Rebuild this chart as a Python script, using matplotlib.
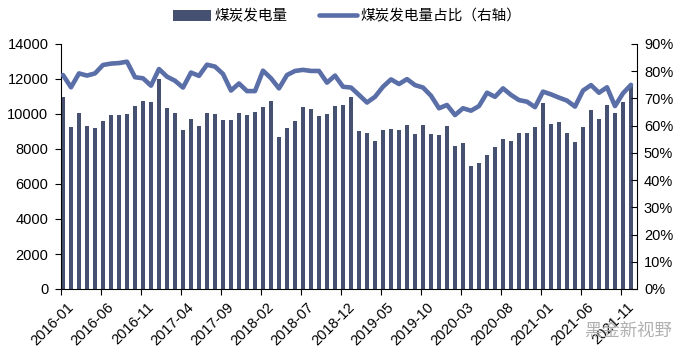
import matplotlib
matplotlib.use("Agg")
import numpy as np
import matplotlib.pyplot as plt
import matplotlib.transforms as mtrans

plt.rcParams['font.family'] = ['Liberation Sans', 'Noto Sans CJK SC', 'DejaVu Sans']

# months 2016-01 .. 2021-12
months = ["%d-%02d" % (y, m) for y in range(2016, 2022) for m in range(1, 13)]

coal_power = [10950, 9270, 10070, 9310, 9180, 9620, 9960, 9920, 9980, 10440, 10740, 10700,
              12000, 10360, 10070, 9070, 9700, 9300, 10070, 10000, 9680, 9640, 10070, 9920,
              10130, 10420, 10760, 8670, 9220, 9600, 10420, 10290, 9870, 10020, 10440, 10500,
              10970, 9010, 8930, 8460, 9090, 9140, 9100, 9350, 8860, 9390, 8880, 8800,
              9300, 8170, 8340, 7030, 7220, 7660, 8110, 8550, 8480, 8930, 8900, 9240,
              10630, 9410, 9560, 8900, 8400, 9240, 10210, 9730, 10510, 10070, 10700, 11700]

coal_share = [78.6, 74.1, 79.2, 78.4, 79.2, 82.3, 82.8, 83.0, 83.5, 77.8, 77.4, 74.7,
              80.8, 78.0, 76.5, 74.0, 79.5, 78.3, 82.4, 81.7, 79.0, 72.9, 75.5, 72.7,
              72.7, 80.2, 77.4, 73.7, 78.6, 80.1, 80.5, 80.1, 80.1, 75.8, 78.4, 74.3,
              74.0, 71.3, 68.5, 70.6, 74.3, 77.0, 75.3, 77.1, 74.9, 74.0, 71.0, 66.4,
              67.6, 63.9, 66.4, 65.5, 67.2, 72.1, 70.6, 73.7, 71.3, 69.4, 68.8, 66.8,
              72.5, 71.5, 70.3, 69.2, 67.0, 72.9, 74.9, 72.1, 74.1, 67.2, 71.9, 75.0]

bar_color = '#465070'
line_color = '#5A6EA8'

x = np.arange(len(months))

fig = plt.figure(figsize=(6.94, 3.64), dpi=100)
ax = fig.add_axes([61/694, 1 - 289/364, (637 - 61)/694, (289 - 44)/364])
ax2 = ax.twinx()

b = ax.bar(x, coal_power, width=0.45, color=bar_color, zorder=2)
l, = ax2.plot(x, coal_share, color=line_color, lw=3.3, solid_joinstyle='round',
              solid_capstyle='round', zorder=3)

ax.set_xlim(-0.25, 71.75)
ax.set_ylim(0, 14000)
ax.set_yticks(range(0, 14001, 2000))
ax2.set_ylim(0, 90)
ax2.set_yticks(range(0, 91, 10))
ax2.set_yticklabels(['%d%%' % v for v in range(0, 91, 10)])

ticks = list(range(0, 72, 5))
ax.set_xticks([t - 0.25 for t in ticks])
ax.tick_params(axis='x', labelbottom=False)
# rotated date labels, placed by hand-tuned offset from each tick
shift = mtrans.ScaledTranslation(6/100, -11/100, fig.dpi_scale_trans)
for t in ticks:
    ax.text(t - 0.25, 0, months[t], transform=ax.get_xaxis_transform() + shift,
            rotation=45, ha='right', va='top', rotation_mode='anchor', fontsize=10.5)

for a in (ax, ax2):
    a.spines['top'].set_visible(False)
    for s in a.spines.values():
        s.set_linewidth(0.8)
        s.set_color('black')
    a.tick_params(labelsize=10.5, width=0.8, length=4, colors='black')
ax.spines['right'].set_visible(False)
ax2.spines['left'].set_visible(False)
ax2.spines['bottom'].set_visible(False)
ax.tick_params(axis='y', pad=5)
ax2.tick_params(axis='y', direction='in', pad=5)

fig.legend([b, l], ['煤炭发电量', '煤炭发电量占比（右轴）'], loc='upper center',
           bbox_to_anchor=(0.5, 1.01), ncol=2, frameon=False,
           handlelength=2.6, handleheight=0.8, columnspacing=2.2, handletextpad=0.2,
           prop={'family': ['Noto Sans CJK SC'], 'size': 10.5})

fig.text(672/694, 1 - 332/364, '黑金新视野', ha='right', va='center', color='#b0b0b0',
         fontsize=12.5, family=['Noto Sans CJK SC'], zorder=5)

fig.savefig('out.png', dpi=100)
